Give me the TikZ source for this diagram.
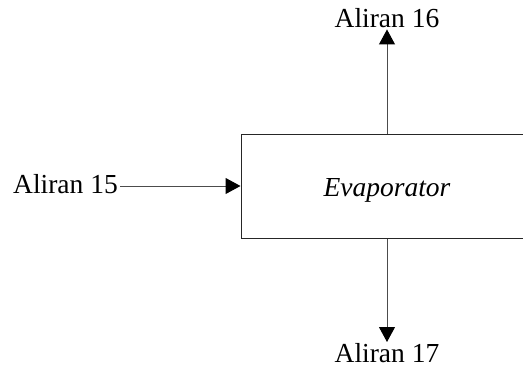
\documentclass[tikz,border=0pt]{standalone}
\usepackage{fontspec}
\setmainfont{Liberation Serif}
\usetikzlibrary{arrows.meta}
\begin{document}
\begin{tikzpicture}[x=1pt,y=-1pt,
  lbl/.style={inner sep=0pt,font=\fontsize{27.5}{33}\selectfont},
  unit/.style={draw=black!85,line width=1pt,minimum width=292pt,minimum height=104pt,inner sep=0pt,font=\fontsize{27.5}{33}\selectfont\itshape},
  flow/.style={draw=black!70,line width=1pt,-{Triangle[width=16pt,length=15pt,fill=black,color=black]}}]
\useasboundingbox (0,0) rectangle (523,367);
\clip (0,0) rectangle (523,367);
\fill[white] (0,0) rectangle (523,367);
\node[unit] (box) at (387,186) {\raisebox{-10pt}[0pt][0pt]{Evaporator}};
\node[lbl,anchor=base] (l16) at (387,27) {Aliran 16};
\node[lbl,anchor=north] (l17) at (387,343) {Aliran 17};
\node[lbl,anchor=base east] (l15) at (118,193) {Aliran 15};
\draw[flow] (box.north) -- ([yshift=-2pt]l16.south);
\draw[flow] (box.south) -- ([yshift=1pt]l17.north);
\draw[flow] ([xshift=2pt]l15.east |- box.west) -- (box.west);
\end{tikzpicture}
\end{document}
